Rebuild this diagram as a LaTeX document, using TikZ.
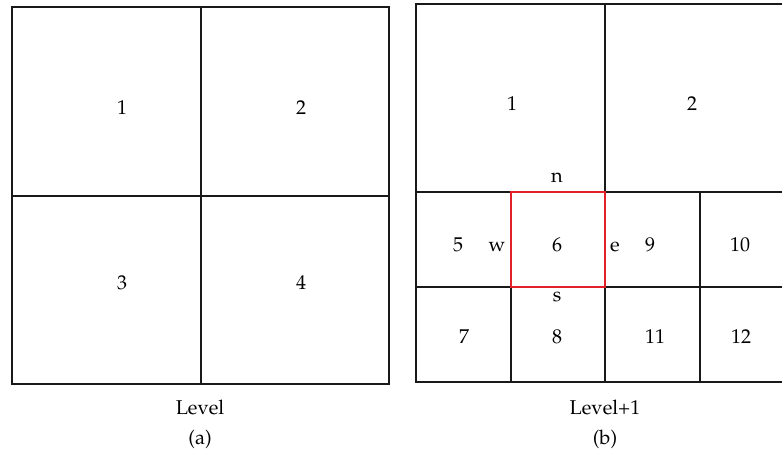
\documentclass[tikz,border=0pt]{standalone}
\usepackage[T1]{fontenc}
\usepackage{mathpazo}
\usetikzlibrary{positioning}
\definecolor{cellred}{RGB}{226,32,40}

\begin{document}
\begin{tikzpicture}[x=0.5pt, y=-0.5pt, grid/.style={line width=0.6pt, black!90}, lbl/.style={font=\normalsize, inner sep=1pt}]
    \useasboundingbox (0,0) rectangle (782,457);
    \clip (0,0) rectangle (782,457);
    % level: one cell in four quarters
    \begin{scope}
      \draw[grid] (12,7) rectangle (389,384);
      \draw[grid] (201,7) -- (201,384); \draw[grid] (12,196) -- (389,196);
      \node[lbl] (q1) at (122,108) {1};
      \node[lbl] (q2) at (301,108) {2};
      \node[lbl] (q3) at (122,283) {3};
      \node[lbl] (q4) at (301,283) {4};
      \node[lbl] (lvl) at (200,407) {Level};
      \node[lbl] (capa) at (200,439) {(a)};
    \end{scope}
    % level+1: lower half refined once more
    \begin{scope}
      \draw[grid] (416,4) rectangle (794,382);
      \draw[grid] (605,4) -- (605,382);
      \draw[grid] (416,192) -- (794,192); \draw[grid] (416,287) -- (794,287);
      \draw[grid] (511,192) -- (511,382); \draw[grid] (700,192) -- (700,382);
      \draw[line width=0.9pt, cellred] (511,192) rectangle (605,287);
      \node[lbl] (r1) at (512,104) {1};
      \node[lbl] (r2) at (692,104) {2};
      \node[lbl] (r5) at (458,245) {5};
      \node[lbl] (r6) at (557,245) {6};
      \node[lbl] (r9) at (650,245) {9};
      \node[lbl] (r10) at (740,245) {10};
      \node[lbl] (r7) at (464,337) {7};
      \node[lbl] (r8) at (557,337) {8};
      \node[lbl] (r11) at (655,337) {11};
      \node[lbl] (r12) at (741,337) {12};
      % neighbour faces of cell 6
      \node[lbl] (fn) at (557,178) {n};
      \node[lbl] (fs) at (557,297) {s};
      \node[lbl] (fw) at (497,247) {w};
      \node[lbl] (fe) at (615,247) {e};
      \node[lbl] (lvlb) at (605,407) {Level+1};
      \node[lbl] (capb) at (605,439) {(b)};
    \end{scope}
  \end{tikzpicture}
\end{document}
